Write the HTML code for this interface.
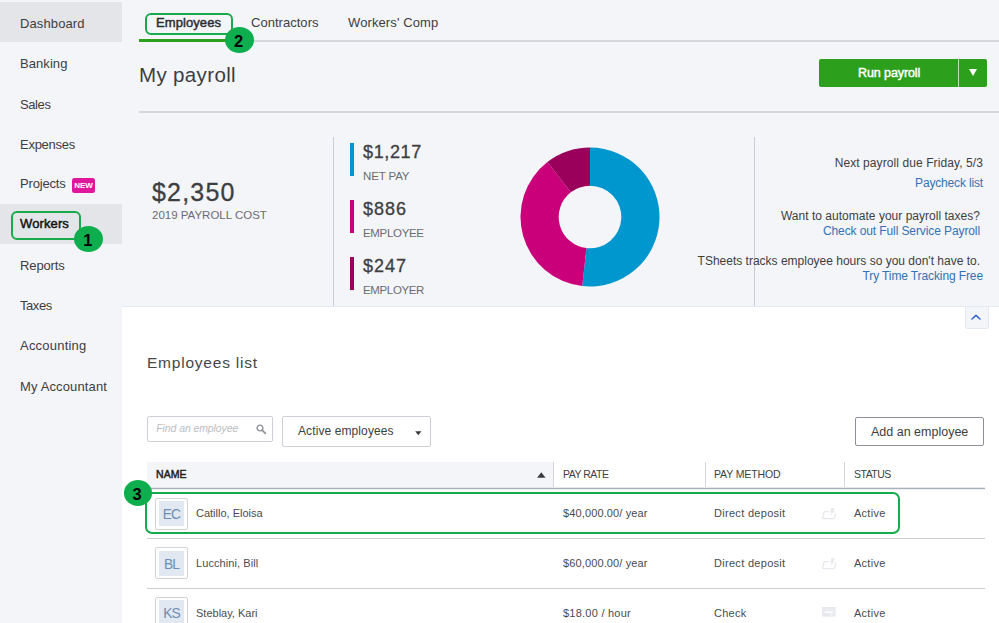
<!DOCTYPE html>
<html lang="en">
<head>
<meta charset="utf-8">
<title>My payroll - Employees</title>
<style>
*{box-sizing:border-box;margin:0;padding:0}
html,body{width:999px;height:623px;overflow:hidden}
body{background:#f4f5f8;font-family:"Liberation Sans",Arial,sans-serif;color:#3d3e42;position:relative}
.abs{position:absolute}
/* text helper: --b = baseline y, --fs = font size (px) */
.t{position:absolute;white-space:nowrap;line-height:1;font-size:calc(var(--fs)*1px);top:calc((var(--b) - var(--fs)*0.8465)*1px)}
.r{text-align:right}
.link{color:#3372b4}
.gray{color:#6b6c72}
/* sidebar */
#side{left:0;top:0;width:122px;height:623px;background:#f4f5f8}
.hl{left:0;width:122px;height:40.3px;background:#e3e5e8}
.callout{border:2px solid #17ab4d;border-radius:6px}
.num{width:28.9px;height:26px;border-radius:50%;background:#0eae4e;color:#000;font-weight:bold;font-size:16.5px;line-height:28px;text-align:center;text-indent:-1.6px}
.nb{-webkit-text-stroke:.3px currentColor}
.sb{font-weight:normal;-webkit-text-stroke:.45px currentColor}
.hline{height:2px;background:#d4d7dc}
.vline{width:1px;background:#c9ccd2}
#white{left:122px;top:306px;width:877px;height:320px;background:#fff;border-top:1px solid #e5ebf4}
.rowline{left:147px;width:838px;height:1px;background:#c9ccd3}
.c2{color:#4a4b50}
.avatar{width:33px;height:32px;border:1px solid #d2d3d6;border-radius:2px;background:#fff;padding:2.5px 3px}
.avatar i{display:block;width:100%;height:100%;background:#e1e8f2;font-style:normal;color:#6f8db3;font-size:13.8px;line-height:27px;text-align:center;letter-spacing:-.9px;text-indent:0}
</style>
</head>
<body>

<!-- SIDEBAR -->
<div id="side" class="abs">
  <div class="abs hl" style="top:1.7px"></div>
  <div class="abs hl" style="top:203.6px;height:40.2px"></div>
  <span class="t" style="--b:28;--fs:13;left:20px;letter-spacing:0.11px">Dashboard</span>
  <span class="t" style="--b:68;--fs:13;left:20px;letter-spacing:0.07px">Banking</span>
  <span class="t" style="--b:109;--fs:13;left:20px;letter-spacing:-0.41px">Sales</span>
  <span class="t" style="--b:149;--fs:13;left:20px;letter-spacing:-0.26px">Expenses</span>
  <span class="t" style="--b:188;--fs:13;left:20px;letter-spacing:-0.18px">Projects</span>
  <span class="abs" style="left:72px;top:178px;width:23px;height:14.5px;border-radius:2.5px;background:#e0179b;color:#fff;font-weight:bold;font-size:8px;line-height:15px;text-align:center;letter-spacing:-0.1px">NEW</span>
  <span class="t sb" style="--b:228;--fs:13;left:20px;color:#111;letter-spacing:0.12px">Workers</span>
  <span class="t" style="--b:270;--fs:13;left:20px;letter-spacing:-0.12px">Reports</span>
  <span class="t" style="--b:310;--fs:13;left:20px;letter-spacing:-0.43px">Taxes</span>
  <span class="t" style="--b:350;--fs:13;left:20px;letter-spacing:0.22px">Accounting</span>
  <span class="t" style="--b:391;--fs:13;left:20px;letter-spacing:0.14px">My Accountant</span>
  <div class="abs callout" style="left:11px;top:211px;width:69.5px;height:28.5px"></div>
</div>
<div class="abs num" style="left:74.3px;top:226.1px">1</div>

<!-- TABS -->
<div class="abs hline" style="left:139px;top:40.2px;width:860px;height:1.7px"></div>
<div class="abs" style="left:139px;top:38.5px;width:96px;height:3.5px;background:#2ca01c"></div>
<span class="t sb" style="--b:26.8;--fs:13;left:156px;color:#2b2c2f;letter-spacing:0.08px">Employees</span>
<span class="t" style="--b:27.2;--fs:13;left:251px;letter-spacing:0.03px">Contractors</span>
<span class="t" style="--b:27.2;--fs:13;left:348px;letter-spacing:0.11px">Workers' Comp</span>
<div class="abs callout" style="left:144.7px;top:12.6px;width:88.2px;height:22px"></div>
<div class="abs num" style="left:224.9px;top:26.7px">2</div>

<!-- TITLE ROW -->
<span class="t" style="--b:81.9;--fs:20.5;left:139px;letter-spacing:0.36px">My payroll</span>
<div class="abs" style="left:819px;top:59px;width:168px;height:28px;border-radius:2px;background:#2ca01c">
  <span class="t sb" style="--b:19;--fs:12.5;left:39px;color:#fff;letter-spacing:-0.09px">Run payroll</span>
  <div class="abs" style="left:139px;top:0;width:1px;height:28px;background:#b9e0b3"></div>
  <svg class="abs" style="left:149.5px;top:10.3px" width="8" height="7" viewBox="0 0 8 7"><path d="M0 0h8L4 7z" fill="#fff"/></svg>
</div>
<div class="abs hline" style="left:139px;top:111px;width:860px"></div>

<!-- SUMMARY -->
<span class="t nb" style="--b:201;--fs:25;left:152px;letter-spacing:1.19px">$2,350</span>
<span class="t gray" style="--b:219.4;--fs:11.5;left:152px">2019 PAYROLL COST</span>
<div class="abs vline" style="left:333px;top:137px;height:170px"></div>

<div class="abs" style="left:350.3px;top:143px;width:3.7px;height:33px;background:#0097cf"></div>
<span class="t nb" style="--b:158;--fs:18;left:363px;letter-spacing:0.64px">$1,217</span>
<span class="t gray" style="--b:181;--fs:11.5;left:363px;letter-spacing:-0.13px">NET PAY</span>
<div class="abs" style="left:350.3px;top:200px;width:3.7px;height:33px;background:#c9007a"></div>
<span class="t nb" style="--b:215;--fs:18;left:363px;letter-spacing:0.99px">$886</span>
<span class="t gray" style="--b:238;--fs:11.5;left:363px;letter-spacing:-0.32px">EMPLOYEE</span>
<div class="abs" style="left:350.3px;top:257px;width:3.7px;height:33px;background:#9a005b"></div>
<span class="t nb" style="--b:272;--fs:18;left:363px;letter-spacing:0.99px">$247</span>
<span class="t gray" style="--b:295;--fs:11.5;left:363px;letter-spacing:-0.36px">EMPLOYER</span>

<!-- DONUT -->
<svg class="abs" style="left:514.7px;top:141.9px" width="150" height="150" viewBox="-75 -75 150 150">
  <path d="M0.00 -69.50A69.5 69.5 0 1 1 -7.79 69.06L-3.51 31.10A31.3 31.3 0 1 0 0.00 -31.30Z" fill="#0097cf"/>
  <path d="M-7.79 69.06A69.5 69.5 0 0 1 -42.63 -54.89L-19.20 -24.72A31.3 31.3 0 0 0 -3.51 31.10Z" fill="#c9007a"/>
  <path d="M-42.63 -54.89A69.5 69.5 0 0 1 -0.00 -69.50L-0.00 -31.30A31.3 31.3 0 0 0 -19.20 -24.72Z" fill="#9a005b"/>
</svg>

<div class="abs vline" style="left:754px;top:137px;height:170px"></div>
<span class="t r" style="--b:167.4;--fs:12;right:16px;letter-spacing:0.09px">Next payroll due Friday, 5/3</span>
<span class="t r link" style="--b:186.7;--fs:12;right:16px;letter-spacing:-0.16px">Paycheck list</span>
<span class="t r" style="--b:220.1;--fs:12;right:19px;letter-spacing:0.02px">Want to automate your payroll taxes?</span>
<span class="t r link" style="--b:235;--fs:12;right:19px;letter-spacing:-0.1px">Check out Full Service Payroll</span>
<span class="t r" style="--b:265.6;--fs:12;right:19px">TSheets tracks employee hours so you don't have to.</span>
<span class="t r link" style="--b:280;--fs:12;right:16px;letter-spacing:-0.11px">Try Time Tracking Free</span>

<!-- WHITE PANEL -->
<div id="white" class="abs"></div>
<!-- collapse button -->
<div class="abs" style="left:965px;top:306.5px;width:24px;height:22px;background:#f4f5f8;border:1px solid #e3e8f1;border-top:none;border-radius:0 0 3px 3px">
  <svg class="abs" style="left:4.5px;top:7.8px" width="10" height="6" viewBox="0 0 10 6"><path d="M1 5L5 1.3 9 5" fill="none" stroke="#3a68cf" stroke-width="1.6" stroke-linecap="round" stroke-linejoin="round"/></svg>
</div>

<span class="t" style="--b:368;--fs:15.5;left:147px;color:#45464a;letter-spacing:0.78px">Employees list</span>

<!-- search -->
<div class="abs" style="left:147px;top:416px;width:126px;height:25.5px;border:1px solid #cdd0d6;border-radius:2px;background:#fff">
  <span class="t" style="--b:14.8;--fs:10.5;left:8.3px;font-style:italic;color:#babec5;letter-spacing:-0.1px">Find an employee</span>
  <svg class="abs" style="left:108.3px;top:7px" width="11" height="11" viewBox="0 0 11 11"><circle cx="4" cy="4" r="2.9" fill="none" stroke="#8d9096" stroke-width="1.4"/><path d="M6.3 6.3l3.1 3.1" stroke="#8d9096" stroke-width="1.7" stroke-linecap="round"/></svg>
</div>
<!-- dropdown -->
<div class="abs" style="left:282px;top:416px;width:148.5px;height:30.5px;border:1px solid #cdd0d6;border-radius:2px;background:#fff">
  <span class="t" style="--b:17.8;--fs:12;left:15px;letter-spacing:0.1px">Active employees</span>
  <svg class="abs" style="left:132px;top:13.6px" width="7" height="5" viewBox="0 0 7 5"><path d="M0.2 0.3h6.2L3.3 4.2z" fill="#393a3d"/></svg>
</div>
<!-- add button -->
<div class="abs" style="left:855px;top:417px;width:129px;height:28.5px;border:1px solid #8d9096;border-radius:2px;background:#fff">
  <span class="t" style="--b:18.6;--fs:12.5;left:15px">Add an employee</span>
</div>

<!-- TABLE HEADER -->
<div class="abs" style="left:147px;top:461.7px;width:406.5px;height:26.3px;background:#f4f5f8"></div>
<div class="abs" style="left:553px;top:461.7px;width:1px;height:26.3px;background:#d4d7dc"></div>
<div class="abs" style="left:705px;top:461.7px;width:1px;height:26.3px;background:#d4d7dc"></div>
<div class="abs" style="left:844px;top:461.7px;width:1px;height:26.3px;background:#d4d7dc"></div>
<div class="abs" style="left:147px;top:488px;width:838px;height:1px;background:#a9aebb;box-shadow:0 -1px 0 #e6e8ed,0 1px 0 #eef0f3"></div>
<span class="t sb" style="--b:478;--fs:10.5;left:156px;color:#222;letter-spacing:0.06px">NAME</span>
<svg class="abs" style="left:536.5px;top:472px" width="9" height="6" viewBox="0 0 9 6"><path d="M4.3 0.2L8.5 5.7H0.1z" fill="#393a3d"/></svg>
<span class="t" style="--b:477.8;--fs:10.5;left:563px;letter-spacing:-0.5px">PAY RATE</span>
<span class="t" style="--b:477.8;--fs:10.5;left:714px;letter-spacing:-0.12px">PAY METHOD</span>
<span class="t" style="--b:477.8;--fs:10.5;left:854px;letter-spacing:-0.5px">STATUS</span>

<!-- ROWS -->
<div class="abs rowline" style="top:538px"></div>
<div class="abs rowline" style="top:588px"></div>

<div class="abs avatar" style="left:155px;top:497.6px"><i>EC</i></div>
<span class="t c2" style="--b:517;--fs:11;left:196px">Catillo, Eloisa</span>
<span class="t c2" style="--b:517;--fs:11;left:563px;letter-spacing:0.13px">$40,000.00/ year</span>
<span class="t c2" style="--b:517;--fs:11;left:714px;letter-spacing:0.3px">Direct deposit</span>
<span class="t c2" style="--b:517;--fs:11;left:854px;letter-spacing:0.26px">Active</span>

<div class="abs avatar" style="left:155px;top:547.2px"><i>BL</i></div>
<span class="t c2" style="--b:567.6;--fs:11;left:196px;letter-spacing:0.08px">Lucchini, Bill</span>
<span class="t c2" style="--b:567.6;--fs:11;left:563px;letter-spacing:0.13px">$60,000.00/ year</span>
<span class="t c2" style="--b:567.6;--fs:11;left:714px;letter-spacing:0.3px">Direct deposit</span>
<span class="t c2" style="--b:567.6;--fs:11;left:854px;letter-spacing:0.26px">Active</span>

<div class="abs avatar" style="left:155px;top:596.9px"><i>KS</i></div>
<span class="t c2" style="--b:617.2;--fs:11;left:196px">Steblay, Kari</span>
<span class="t c2" style="--b:617.2;--fs:11;left:563px;letter-spacing:0.24px">$18.00 / hour</span>
<span class="t c2" style="--b:617.2;--fs:11;left:714px;letter-spacing:0.26px">Check</span>
<span class="t c2" style="--b:617.2;--fs:11;left:854px;letter-spacing:0.26px">Active</span>

<!-- pay method icons -->
<svg class="abs" style="left:822px;top:507px" width="15" height="13" viewBox="0 0 15 13"><path d="M6.3 4.6H3a1.1 1.1 0 0 0-1.1 .9L.75 10.4a1 1 0 0 0 1 1.2H11.4a1.1 1.1 0 0 0 1.1-.9L13.6 6.1" fill="none" stroke="#e7e9ed" stroke-width="1.35" stroke-linecap="round"/><path d="M9.6 1.1h3.2L11.1 4.3h1.5L8.2 8.7 9.6 5.3H8.1z" fill="#e7e9ed"/></svg>
<svg class="abs" style="left:822px;top:556.6px" width="15" height="13" viewBox="0 0 15 13"><path d="M6.3 4.6H3a1.1 1.1 0 0 0-1.1 .9L.75 10.4a1 1 0 0 0 1 1.2H11.4a1.1 1.1 0 0 0 1.1-.9L13.6 6.1" fill="none" stroke="#e7e9ed" stroke-width="1.35" stroke-linecap="round"/><path d="M9.6 1.1h3.2L11.1 4.3h1.5L8.2 8.7 9.6 5.3H8.1z" fill="#e7e9ed"/></svg>
<svg class="abs" style="left:822.3px;top:607px" width="14" height="10" viewBox="0 0 14 10"><rect width="13.6" height="9.6" fill="#e7e9ed"/><rect x="0" y="2.3" width="13.6" height=".5" fill="#f1f2f5"/><rect x="2.6" y="4.4" width="8.3" height="1.5" fill="#fff"/><rect x="8" y="6.9" width="2.9" height=".9" fill="#fff"/></svg>

<!-- highlight callout 3 -->
<div class="abs callout" style="left:144.7px;top:491.8px;width:755px;height:42.7px;border-radius:7px"></div>
<div class="abs num" style="left:123.5px;top:480.1px">3</div>


</body>
</html>
